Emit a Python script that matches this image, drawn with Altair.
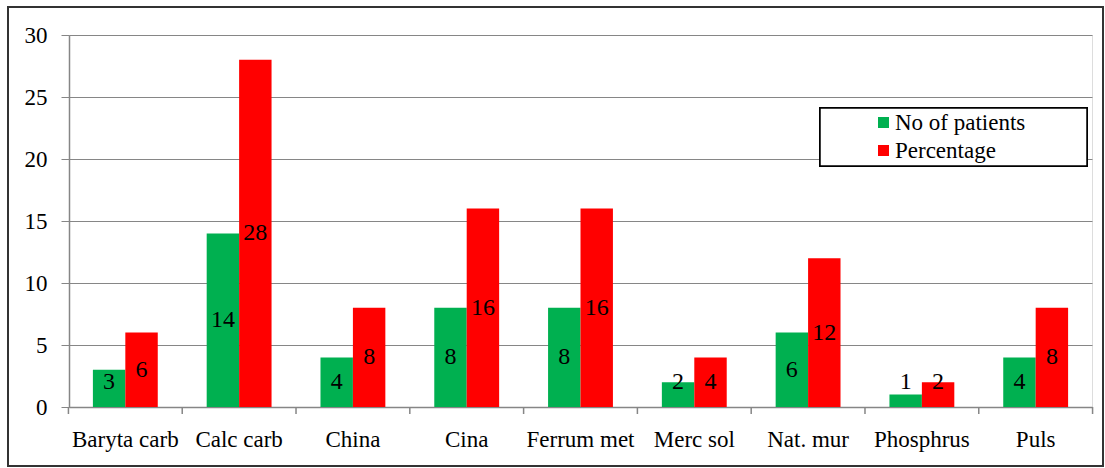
import altair as alt
import pandas as pd

drugs = ["Baryta carb", "Calc carb", "China", "Cina", "Ferrum met",
         "Merc sol", "Nat. mur", "Phosphrus", "Puls"]
patients = [3, 14, 4, 8, 8, 2, 6, 1, 4]
percentage = [6, 28, 8, 16, 16, 4, 12, 2, 8]
series = ["No of patients", "Percentage"]
colors = ["#00B050", "#FF0000"]

rows = []
for d, p, q in zip(drugs, patients, percentage):
    rows.append({"drug": d, "series": series[0], "value": p})
    rows.append({"drug": d, "series": series[1], "value": q})
df = pd.DataFrame(rows)
ticks_df = pd.DataFrame({"drug": drugs})
last_df = pd.DataFrame({"drug": drugs[-1:]})

FONT = "Liberation Serif"
FS = 23
W, H = 1023, 372
L, T = 69, 35
P_IN, P_OUT = 0.43, 0.21
step = W / (len(drugs) - P_IN + 2 * P_OUT)
half_gap = P_IN * step / 2

xscale = alt.Scale(domain=drugs, paddingInner=P_IN, paddingOuter=P_OUT)
xaxis = alt.Axis(labelAngle=0, labelFont=FONT, labelFontSize=FS,
                 labelColor="#000000", domainColor="#868686",
                 ticks=False, domainWidth=1.5,
                 labelPadding=21, grid=False)
x = alt.X("drug:N", sort=drugs, title=None, scale=xscale, axis=xaxis)
xo = alt.XOffset("series:N", sort=series)

bars = alt.Chart(df).mark_bar().encode(
    x=x, xOffset=xo,
    y=alt.Y("value:Q", title=None,
            scale=alt.Scale(domain=[0, 30], nice=False),
            axis=alt.Axis(values=[0, 5, 10, 15, 20, 25, 30], labelFont=FONT,
                          labelFontSize=FS, labelColor="#000000",
                          domainColor="#868686", tickColor="#868686",
                          tickSize=8, labelPadding=14, gridColor="#868686",
                          gridWidth=1, domainWidth=1.5)),
    color=alt.Color("series:N", sort=series,
                    scale=alt.Scale(domain=series, range=colors),
                    legend=alt.Legend(title=None, orient="none",
                                      legendX=803, legendY=76,
                                      symbolType="square", symbolSize=121,
                                      symbolStrokeWidth=0,
                                      labelFont=FONT, labelFontSize=FS,
                                      labelColor="#000000", labelOffset=0,
                                      rowPadding=4, padding=0)),
)

labels = alt.Chart(df).transform_calculate(
    ypos="max(datum.value / 2, 2)"
).mark_text(font=FONT, fontSize=24, color="#000000", baseline="middle").encode(
    x=x, xOffset=xo,
    y=alt.Y("ypos:Q"),
    text=alt.Text("value:Q"),
)

xticks = alt.Chart(ticks_df).mark_rule(color="#868686", strokeWidth=1.5,
                                       xOffset=-half_gap).encode(
    x=alt.X("drug:N", sort=drugs, title=None, scale=xscale, bandPosition=0, axis=xaxis),
    y=alt.value(H), y2=alt.value(H + 7),
)
xtick_last = alt.Chart(last_df).mark_rule(color="#868686", strokeWidth=1.5,
                                          xOffset=half_gap).encode(
    x=alt.X("drug:N", sort=drugs, title=None, scale=xscale, bandPosition=1, axis=xaxis),
    y=alt.value(H), y2=alt.value(H + 7),
)

border = alt.Chart(df).mark_rect(fill=None, stroke="#333333", strokeWidth=2).encode(
    x=alt.value(8 - L), x2=alt.value(1103 - L),
    y=alt.value(7 - T), y2=alt.value(466 - T),
)

legend_box = alt.Chart(df).mark_rect(fill="white", stroke="#000000", strokeWidth=1.5).encode(
    x=alt.value(820 - L), x2=alt.value(1087 - L),
    y=alt.value(108 - T), y2=alt.value(166 - T),
)

chart = alt.layer(bars, labels, xticks, xtick_last, legend_box, border).properties(
    width=W, height=H,
    autosize=alt.AutoSizeParams(type="none"),
    padding={"left": L, "top": T, "right": 1105 - L - W, "bottom": 468 - T - H},
).configure_view(stroke=None).configure(background="white")

chart.save("out.html", embed_options={"renderer": "svg", "actions": False})
